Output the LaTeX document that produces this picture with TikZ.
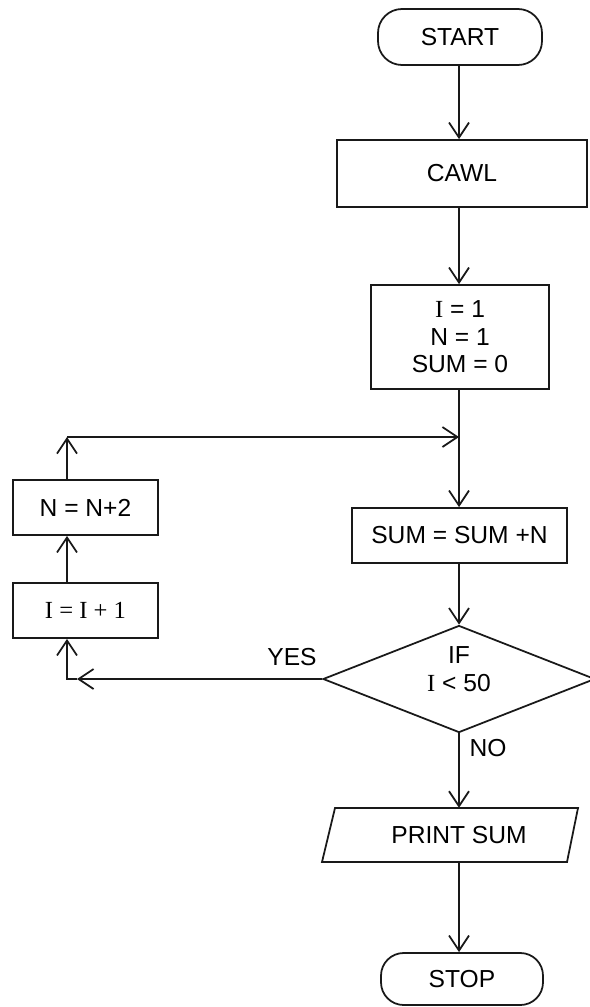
\documentclass[tikz,border=0pt]{standalone}
\usepackage{fontspec}
\setmainfont{Liberation Sans}
\newfontfamily\ser{Liberation Serif}
\usetikzlibrary{arrows.meta,shapes.geometric}
\begin{document}
\begin{tikzpicture}[x=0.03cm,y=-0.03cm,
  every node/.style={font=\fontsize{21}{23.5}\selectfont, inner sep=0pt, align=center},
  ln/.style={line width=1.5pt, draw=black!90},
  arr/.style={ln, -{Straight Barb[length=0.45cm,width=0.6cm,line width=1.5pt]}},
  term/.style={ln, rectangle, rounded corners=0.72cm},
  proc/.style={ln, rectangle},
  dec/.style={ln, diamond, aspect=2.54},
  lbl/.style={font=\fontsize{21}{23.5}\selectfont}]
\useasboundingbox (0,0) rectangle (590,1007);
\fill[white] (0,0) rectangle (590,1007);
% main column
\node[term, minimum width=4.92cm, minimum height=1.68cm] (start) at (460,37) {START};
\node[proc, minimum width=7.5cm, minimum height=2.01cm] (cawl) at (462,173.5) {CAWL};
\node[proc, minimum width=5.34cm, minimum height=3.12cm] (init) at (460,337) {{\ser I} = 1\\N = 1\\SUM = 0};
\node[proc, minimum width=6.45cm, minimum height=1.65cm] (sum) at (459.5,535.5) {SUM = SUM +N};
\node[dec, minimum width=8.16cm, minimum height=3.21cm] (dec) at (459,679) {};
\node (dectxt) at (459,669) {IF\\{\ser I} < 50};
\node[minimum width=7.1cm, minimum height=1.62cm] (print) at (459,835) {PRINT SUM};
\draw[ln] (335,808) -- (578,808) -- (567,862) -- (322,862) -- cycle;
\node[term, minimum width=4.86cm, minimum height=1.56cm, rounded corners=0.68cm] (stop) at (462,979) {STOP};
% loop boxes
\node[proc, minimum width=4.35cm, minimum height=1.65cm] (nbox) at (85.5,507.5) {N = N+2};
\node[proc, minimum width=4.35cm, minimum height=1.65cm] (ibox) at (85.5,610.5) {\ser I = I + 1};
% coordinates
\coordinate (tl) at (67,437);
\coordinate (bl) at (67,679);
\coordinate (j) at (459,437);
\coordinate (tipy) at (77,679);
% connectors
\draw[arr] (start.south -| j) -- (j |- cawl.north);
\draw[arr] (cawl.south -| j) -- (j |- init.north);
\draw[ln] (init.south -| j) -- (j);
\draw[arr] (j) -- (j |- sum.north);
\draw[arr] (sum.south -| j) -- (dec.north);
\draw[arr] (dec.south) -- (j |- print.north);
\draw[arr] (j |- print.south) -- (j |- stop.north);
\draw[arr] (dec.west) -- (tipy);
\draw[arr] (tipy) -| (tl |- ibox.south);
\draw[arr] (tl |- ibox.north) -- (tl |- nbox.south);
\draw[arr] (tl |- nbox.north) -- (tl);
\draw[arr] (tl) -- (j);
% labels
\node[lbl] (yes) at (292,657) {YES};
\node[lbl] (no) at (488,748) {NO};
\end{tikzpicture}
\end{document}
